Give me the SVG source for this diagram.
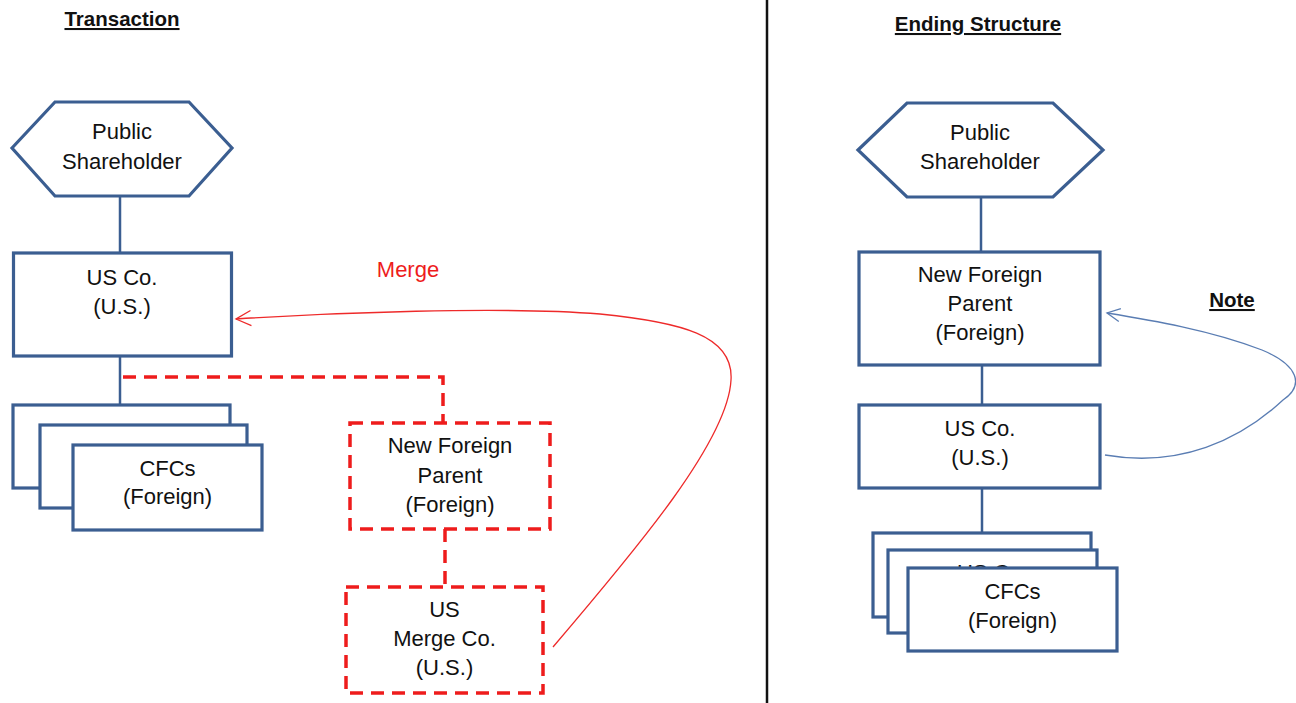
<svg xmlns="http://www.w3.org/2000/svg" width="1296" height="703" viewBox="0 0 1296 703">
  <style>
    .box { fill: #ffffff; stroke: #3b5e91; stroke-width: 3.2; }
    .dbox { fill: #ffffff; stroke: #ee1c1c; stroke-width: 3.5; stroke-dasharray: 13 8; }
    .link { stroke: #3b5e91; stroke-width: 2.5; fill: none; }
    .dlink { stroke: #ee1c1c; stroke-width: 3.5; stroke-dasharray: 13 8; fill: none; }
    .t { font-family: "Liberation Sans", Arial, sans-serif; font-size: 22px; fill: #111111; text-anchor: middle; }
    .title { font-family: "Liberation Sans", Arial, sans-serif; font-size: 20.5px; font-weight: bold; fill: #111111; text-anchor: middle; text-decoration: underline; }
  </style>
  <defs>
    <marker id="arrRed" markerUnits="userSpaceOnUse" markerWidth="18" markerHeight="18" viewBox="0 0 18 18" refX="16" refY="9" orient="auto">
      <path d="M1,1.5 L16,9 L1,16.5" fill="none" stroke="#ee2a2a" stroke-width="1.3"/>
    </marker>
    <marker id="arrBlue" markerUnits="userSpaceOnUse" markerWidth="16" markerHeight="16" viewBox="0 0 16 16" refX="14" refY="8" orient="auto">
      <path d="M1,1.5 L14,8 L1,14.5" fill="none" stroke="#5a7db3" stroke-width="1.3"/>
    </marker>
  </defs>
  <rect width="1296" height="703" fill="#ffffff"/>

  <!-- Titles -->
  <text class="title" x="122" y="26">Transaction</text>
  <text class="title" x="978" y="31">Ending Structure</text>

  <!-- Divider -->
  <line x1="767" y1="0" x2="767" y2="703" stroke="#111111" stroke-width="2.5"/>

  <!-- Connectors -->
  <g id="connectors">
    <line class="link" x1="120" y1="197" x2="120" y2="253"/>
    <line class="link" x1="120" y1="356" x2="120" y2="405"/>
    <path class="dlink" d="M123,377 H443 V423"/>
    <line class="dlink" x1="445" y1="529" x2="445" y2="587"/>
    <path d="M553,647 C640,545 728,440 731,380 C734,335 680,322 600,314 C500,306 330,313 236,319" fill="none" stroke="#ee2a2a" stroke-width="1.3" marker-end="url(#arrRed)"/>
    <line class="link" x1="981" y1="197" x2="981" y2="252"/>
    <line class="link" x1="982" y1="365" x2="982" y2="405"/>
    <line class="link" x1="982" y1="488" x2="982" y2="533"/>
    <path d="M1105,455 C1180,468 1240,440 1283,400 C1305,385 1298,365 1262,350 C1210,330 1150,320 1107,313" fill="none" stroke="#5a7db3" stroke-width="1.3" marker-end="url(#arrBlue)"/>
  </g>

  <!-- Labels -->
  <text class="t" x="408" y="277" style="fill:#ee1c1c">Merge</text>
  <text class="title" x="1232" y="307">Note</text>

  <!-- Left side nodes -->
  <g id="left-public">
    <polygon class="box" points="12,148 55,102 189,102 232,148 189,196 55,196"/>
    <text class="t" x="122" y="139">Public</text>
    <text class="t" x="122" y="169">Shareholder</text>
  </g>
  <g id="left-usco">
    <rect class="box" x="13.5" y="253" width="218" height="103"/>
    <text class="t" x="122" y="285">US Co.</text>
    <text class="t" x="122" y="314">(U.S.)</text>
  </g>
  <g id="left-cfcs">
    <rect class="box" x="13" y="405" width="217" height="83"/>
    <rect class="box" x="40" y="425" width="207" height="83"/>
    <rect class="box" x="73" y="445" width="189" height="85"/>
    <text class="t" x="167.5" y="476">CFCs</text>
    <text class="t" x="167.5" y="504">(Foreign)</text>
  </g>
  <g id="left-nfp">
    <rect class="dbox" x="350" y="423" width="200" height="106"/>
    <text class="t" x="450" y="453">New Foreign</text>
    <text class="t" x="450" y="482.5">Parent</text>
    <text class="t" x="450" y="512">(Foreign)</text>
  </g>
  <g id="left-merge">
    <rect class="dbox" x="346" y="587" width="197" height="106"/>
    <text class="t" x="444.5" y="617">US</text>
    <text class="t" x="444.5" y="646">Merge Co.</text>
    <text class="t" x="444.5" y="675">(U.S.)</text>
  </g>

  <!-- Right side nodes -->
  <g id="right-public">
    <polygon class="box" points="858,150 907,103 1053,103 1103,150 1053,197 907,197"/>
    <text class="t" x="980" y="140">Public</text>
    <text class="t" x="980" y="169">Shareholder</text>
  </g>
  <g id="right-nfp">
    <rect class="box" x="859" y="252" width="241" height="113"/>
    <text class="t" x="980" y="282">New Foreign</text>
    <text class="t" x="980" y="311">Parent</text>
    <text class="t" x="980" y="340">(Foreign)</text>
  </g>
  <g id="right-usco">
    <rect class="box" x="859" y="405" width="241" height="83"/>
    <text class="t" x="980" y="436">US Co.</text>
    <text class="t" x="980" y="465">(U.S.)</text>
  </g>
  <g id="right-cfcs">
    <rect class="box" x="873" y="533" width="218" height="84"/>
    <rect class="box" x="888" y="550" width="209" height="83"/>
    <text class="t" x="992.5" y="580">US Co.</text>
    <rect class="box" x="908" y="568" width="209" height="83"/>
    <text class="t" x="1012.5" y="599">CFCs</text>
    <text class="t" x="1012.5" y="628">(Foreign)</text>
  </g>
</svg>
